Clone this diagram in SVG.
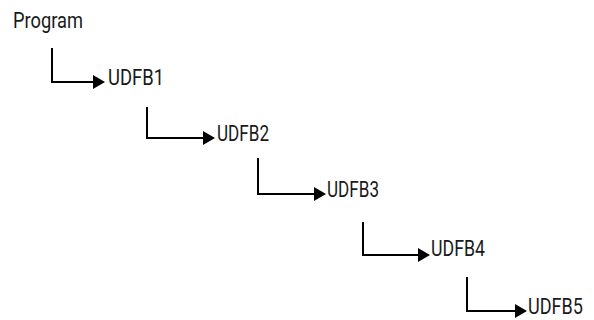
<svg xmlns="http://www.w3.org/2000/svg" width="594" height="320" viewBox="0 0 594 320">
  <defs>
    <style>
      .lbl { font-family: "Roboto", "Liberation Sans", sans-serif; font-size: 22px; fill: #1a1a1a; }
      .conn { fill: none; stroke: #000; stroke-width: 2; }
    </style>
    <marker id="arr" markerUnits="userSpaceOnUse" markerWidth="13" markerHeight="15" refX="6" refY="7" orient="auto" viewBox="0 0 13 14">
      <path d="M0,0 L12,7 L0,14 z" fill="#000"/>
    </marker>
  </defs>
  <rect width="594" height="320" fill="#fff"/>
  <g id="connectors">
    <path class="conn" d="M52,48 V82 H99" marker-end="url(#arr)"/>
    <path class="conn" d="M147,107 V138 H209" marker-end="url(#arr)"/>
    <path class="conn" d="M258,158 V194 H320" marker-end="url(#arr)"/>
    <path class="conn" d="M363,222 V255 H424" marker-end="url(#arr)"/>
    <path class="conn" d="M467,277 V311 H521" marker-end="url(#arr)"/>
  </g>
  <g id="program"><text class="lbl" x="13" y="28" textLength="70" lengthAdjust="spacingAndGlyphs">Program</text></g>
  <g id="udfb1"><text class="lbl" x="108" y="85" textLength="56" lengthAdjust="spacingAndGlyphs">UDFB1</text></g>
  <g id="udfb2"><text class="lbl" x="217" y="141" textLength="52" lengthAdjust="spacingAndGlyphs">UDFB2</text></g>
  <g id="udfb3"><text class="lbl" x="327" y="197" textLength="52" lengthAdjust="spacingAndGlyphs">UDFB3</text></g>
  <g id="udfb4"><text class="lbl" x="431" y="256" textLength="54" lengthAdjust="spacingAndGlyphs">UDFB4</text></g>
  <g id="udfb5"><text class="lbl" x="528" y="314" textLength="55" lengthAdjust="spacingAndGlyphs">UDFB5</text></g>
</svg>
